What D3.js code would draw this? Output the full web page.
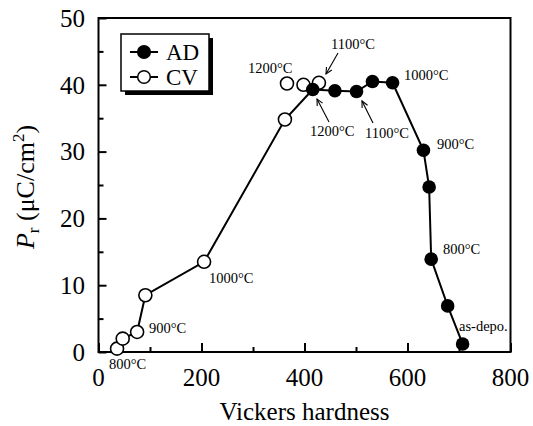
<!DOCTYPE html>
<html>
<head>
<meta charset="UTF-8">
<script src="https://d3js.org/d3.v7.min.js"></script>
<style>
  body { margin: 0; background: #fff; }
  svg { display: block; font-family: "Liberation Serif", "Times New Roman", serif; }
</style>
</head>
<body>
<svg id="chart" width="533" height="426"></svg>
<script>
// data
const adX = [416, 459, 501, 532, 571, 631, 642, 646, 678, 707];
const adY = [39.3, 39.1, 39.0, 40.5, 40.3, 30.2, 24.7, 13.9, 6.9, 1.2];
const cvX = [36, 47, 75, 91, 205, 362, 366, 398, 428];
const cvY = [0.5, 2.0, 3.0, 8.5, 13.5, 34.8, 40.2, 40.0, 40.3];
// which CV points the line goes through
const cvOnLine = [1, 1, 1, 1, 1, 1, 0, 0, 1];
const xTicks = [0, 200, 400, 600, 800];
const yTicks = [0, 10, 20, 30, 40, 50];

// temperature notes (pixel layout)
const notes = [
  { t: "1200°C", x: 248, y: 73 },
  { t: "1100°C", x: 331, y: 49 },
  { t: "1000°C", x: 404, y: 80 },
  { t: "900°C", x: 437, y: 149 },
  { t: "800°C", x: 443, y: 254 },
  { t: "as-depo.", x: 459, y: 331 },
  { t: "1200°C", x: 310, y: 136 },
  { t: "1100°C", x: 365, y: 138 },
  { t: "1000°C", x: 209, y: 283 },
  { t: "900°C", x: 149, y: 333 },
  { t: "800°C", x: 109, y: 369 }
];
const arrows = [
  [338, 53, 326, 74],
  [329, 122, 317, 99],
  [373, 123, 362, 101]
];

const svg = d3.select("#chart");
const x = d3.scaleLinear().domain([0, 800]).range([98.5, 510.5]);
const y = d3.scaleLinear().domain([0, 50]).range([352, 18]);

// frame
svg.append("rect")
  .attr("x", x(0)).attr("y", y(50))
  .attr("width", x(800) - x(0)).attr("height", y(0) - y(50))
  .attr("fill", "none").attr("stroke", "#000").attr("stroke-width", 2);

// ticks (inward)
const xAxis = d3.axisBottom(x).tickValues(xTicks).tickSize(-9).tickFormat("");
const xMinor = d3.axisBottom(x).tickValues([100, 300, 500, 700]).tickSize(-5).tickFormat("");
const yAxis = d3.axisLeft(y).tickValues(yTicks).tickSize(-8).tickFormat("");
const yMinor = d3.axisLeft(y).tickValues([5, 15, 25, 35, 45]).tickSize(-5).tickFormat("");
[xAxis, xMinor].forEach(a => svg.append("g").attr("transform", `translate(0,${y(0)})`).call(a));
[yAxis, yMinor].forEach(a => svg.append("g").attr("transform", `translate(${x(0)},0)`).call(a));
svg.selectAll(".domain").remove();
svg.selectAll(".tick line").attr("stroke", "#000").attr("stroke-width", 2);

// tick labels
svg.append("g").selectAll("text").data(xTicks).join("text")
  .attr("x", d => x(d)).attr("y", 386)
  .attr("text-anchor", "middle").attr("font-size", 25).text(d => d);
svg.append("g").selectAll("text").data(yTicks).join("text")
  .attr("x", 85).attr("y", d => y(d)).attr("dy", "0.35em")
  .attr("text-anchor", "end").attr("font-size", 25).text(d => d);

// axis titles
svg.append("text").attr("x", x(400)).attr("y", 420)
  .attr("text-anchor", "middle").attr("font-size", 25).text("Vickers hardness");
const yl = svg.append("text").attr("transform", "translate(34,187) rotate(-90)")
  .attr("text-anchor", "middle").attr("font-size", 26);
yl.append("tspan").attr("font-style", "italic").text("P");
yl.append("tspan").attr("font-size", 17).attr("dy", 5).text("r");
yl.append("tspan").attr("dy", -5).text(" (μC/cm");
yl.append("tspan").attr("font-size", 17).attr("dy", -10).text("2");
yl.append("tspan").attr("dy", 10).text(")");

// lines
const line = d3.line().x(d => x(d[0])).y(d => y(d[1]));
const cvPts = cvX.map((v, i) => [v, cvY[i]]).filter((d, i) => cvOnLine[i]);
const adPts = adX.map((v, i) => [v, adY[i]]);
svg.append("path").attr("d", line(cvPts)).attr("fill", "none").attr("stroke", "#000").attr("stroke-width", 2);
svg.append("path").attr("d", line(adPts)).attr("fill", "none").attr("stroke", "#000").attr("stroke-width", 2);

// markers
svg.append("g").selectAll("circle").data(cvX).join("circle")
  .attr("cx", d => x(d)).attr("cy", (d, i) => y(cvY[i])).attr("r", 6.5)
  .attr("fill", "#fff").attr("stroke", "#000").attr("stroke-width", 1.6);
svg.append("g").selectAll("circle").data(adX).join("circle")
  .attr("cx", d => x(d)).attr("cy", (d, i) => y(adY[i])).attr("r", 6.8)
  .attr("fill", "#000");

// notes
svg.append("g").selectAll("text").data(notes).join("text")
  .attr("x", d => d.x).attr("y", d => d.y)
  .attr("font-size", 14.5).text(d => d.t);

// arrows with open heads
arrows.forEach(([x1, y1, x2, y2]) => {
  svg.append("line").attr("x1", x1).attr("y1", y1).attr("x2", x2).attr("y2", y2)
    .attr("stroke", "#000").attr("stroke-width", 1.1);
  const a = Math.atan2(y2 - y1, x2 - x1), h = 7, s = 0.45;
  const p = [
    [x2 - h * Math.cos(a - s), y2 - h * Math.sin(a - s)],
    [x2, y2],
    [x2 - h * Math.cos(a + s), y2 - h * Math.sin(a + s)]
  ];
  svg.append("path").attr("d", d3.line()(p)).attr("fill", "none")
    .attr("stroke", "#000").attr("stroke-width", 1.1);
});

// legend with drop shadow
const lg = svg.append("g");
lg.append("rect").attr("x", 125).attr("y", 38).attr("width", 88).attr("height", 57).attr("fill", "#000");
lg.append("rect").attr("x", 121).attr("y", 34).attr("width", 88).attr("height", 57)
  .attr("fill", "#fff").attr("stroke", "#000").attr("stroke-width", 1.5);
const legend = [{ name: "AD", fill: "#000", y: 52 }, { name: "CV", fill: "#fff", y: 77 }];
legend.forEach(d => {
  lg.append("line").attr("x1", 130).attr("x2", 158).attr("y1", d.y).attr("y2", d.y)
    .attr("stroke", "#000").attr("stroke-width", 2);
  lg.append("circle").attr("cx", 144).attr("cy", d.y).attr("r", 6.3)
    .attr("fill", d.fill).attr("stroke", "#000").attr("stroke-width", 1.5);
  lg.append("text").attr("x", 166).attr("y", d.y).attr("dy", "0.35em")
    .attr("font-size", 23).text(d.name);
});
</script>
</body>
</html>
